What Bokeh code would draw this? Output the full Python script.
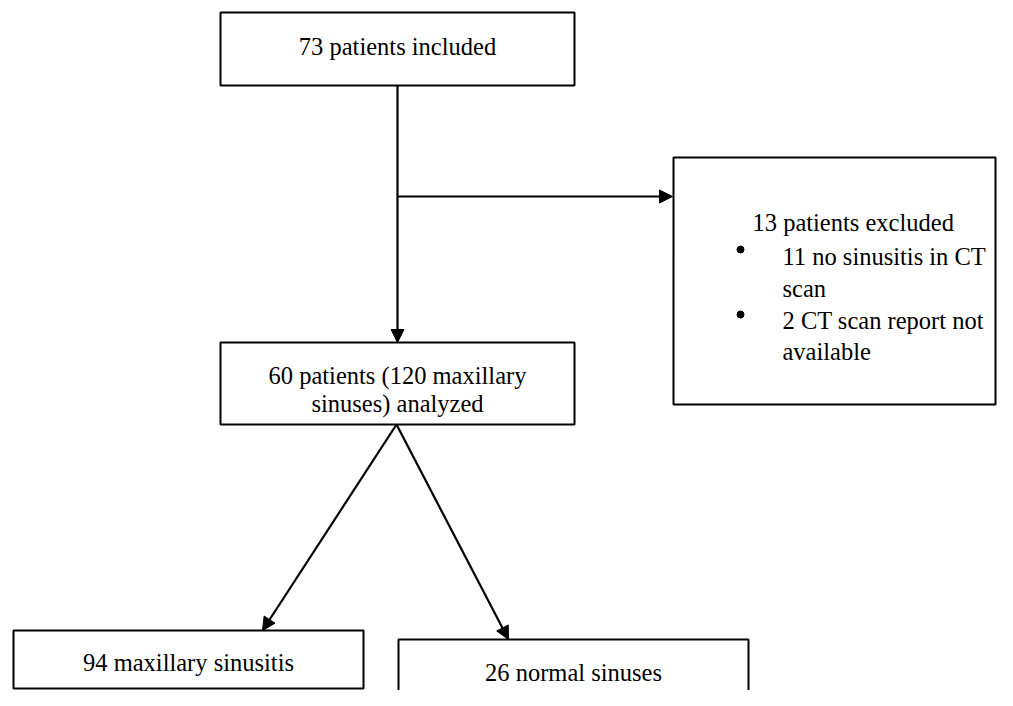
from bokeh.plotting import figure
from bokeh.models import Range1d, Arrow, NormalHead
from bokeh.core.properties import value
from bokeh.embed import file_html
from bokeh.resources import INLINE

# ---- flowchart content ----
box_names = ["included", "analyzed", "excluded", "sinusitis", "normal"]
box_left = [220, 220, 673, 13, 398]
box_right = [574, 574, 995, 363, 748]
box_top = [12, 342, 157, 630, 639]
box_bottom = [85, 424, 404, 688, 730]

center_labels = ["73 patients included", "60 patients (120 maxillary",
                 "sinuses) analyzed", "94 maxillary sinusitis", "26 normal sinuses"]
center_x = [397, 397, 397, 188, 573]
center_y = [46, 375, 403, 662, 672]

excl_title = ["13 patients excluded"]
excl_title_x = [752]
excl_title_y = [222]

excl_lines = ["11 no sinusitis in CT", "scan", "2 CT scan report not", "available"]
excl_lines_x = [782, 782, 782, 782]
excl_lines_y = [256, 288, 320, 351]

bullet_x = [740, 740]
bullet_y = [249, 314]

arrow_x0 = [397, 397, 396, 396]
arrow_y0 = [85, 196, 424, 424]
arrow_x1 = [397, 672, 262, 508]
arrow_y1 = [342, 196, 630, 639]

FONT = value("Liberation Serif")
FS = "24.5px"

p = figure(width=997, height=690, output_backend="svg", toolbar_location=None,
           x_range=Range1d(0, 997), y_range=Range1d(690, 0),
           x_axis_location=None, y_axis_location=None, min_border=0)
p.grid.visible = False
p.outline_line_color = None
p.background_fill_color = "white"
p.border_fill_color = "white"

# arrows
for x0, y0, x1, y1 in zip(arrow_x0, arrow_y0, arrow_x1, arrow_y1):
    p.add_layout(Arrow(x_start=x0, y_start=y0, x_end=x1, y_end=y1,
                       line_width=2.2, line_color="black",
                       end=NormalHead(size=13, fill_color="black",
                                      line_color="black", line_width=1)))

# boxes
p.quad(left=box_left, right=box_right, top=box_top, bottom=box_bottom,
       fill_color="white", line_color="black", line_width=2)

# texts
p.text(x=center_x, y=center_y, text=center_labels, text_font=FONT,
       text_font_size=FS, text_align="center", text_baseline="alphabetic",
       text_color="black")
p.text(x=excl_title_x, y=excl_title_y, text=excl_title, text_font=FONT,
       text_font_size=FS, text_align="left", text_baseline="alphabetic",
       text_color="black")
p.text(x=excl_lines_x, y=excl_lines_y, text=excl_lines, text_font=FONT,
       text_font_size=FS, text_align="left", text_baseline="alphabetic",
       text_color="black")

# bullets
p.scatter(x=bullet_x, y=bullet_y, marker="circle", size=7,
          fill_color="black", line_color="black")

open("out.html", "w").write(file_html(p, INLINE))
